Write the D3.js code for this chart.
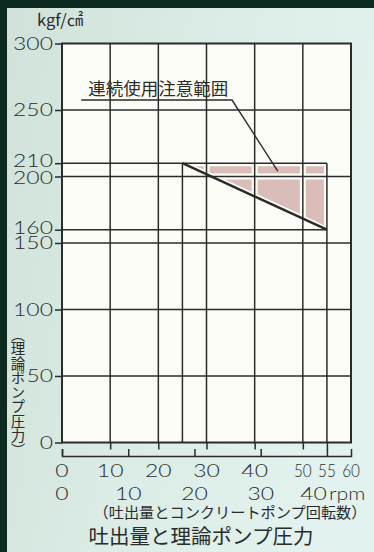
<!DOCTYPE html>
<html><head><meta charset="utf-8">
<script src="https://cdn.jsdelivr.net/npm/d3@7"></script>
<style>
html,body{margin:0;padding:0;background:#0e2a20;}
svg{display:block;}
</style></head><body>
<svg id="chart" width="374" height="552"></svg>
<script>
// Discharge ticks along the first row under the plot
const flowTicks = [0, 10, 20, 30, 40, 50, 55, 60];
// Concrete-pump speed (rpm) on the second row; 40 rpm corresponds to 55 on the discharge scale
const rpmTicks = [0, 10, 20, 30, 40];
const rpmFlowPair = [40, 55];
// Pressure axis labels (kgf/cm²)
const pressureTicks = [0, 50, 100, 150, 160, 200, 210, 250, 300];
const flowGrid = [10, 20, 30, 40, 50];
const pressureGrid = [50, 100, 150, 200, 250];
// Theoretical pump pressure against discharge
const pressureCurve = [[25, 210], [55, 160]];
// Continuous-use caution zone (above the curve, up to 210)
const cautionZone = [[25, 210], [55, 210], [55, 160]];
const cautionLabel = "連続使用注意範囲";
const cautionLabelAt = [20, 261];
const leaderPath = [[4, 257.5], [35.3, 257.5], [44.8, 204]];

const W = 374, H = 552;
const svg = d3.select("#chart");
const ink = "#2b2b2b";
const jp = "'Noto Sans CJK JP', sans-serif";
const num = "Lato, 'Liberation Sans', Arial, sans-serif";

// panel background with dark frame on top and left
const defs = svg.append("defs");
const grad = defs.append("linearGradient").attr("id", "panel").attr("x1", 0).attr("x2", 1).attr("y1", 0).attr("y2", 0.3);
grad.append("stop").attr("offset", 0).attr("stop-color", "#d0e2da");
grad.append("stop").attr("offset", 0.5).attr("stop-color", "#dbebe5");
grad.append("stop").attr("offset", 1).attr("stop-color", "#e2f2ee");
svg.append("rect").attr("width", W).attr("height", H).attr("fill", "#0e2a20");
svg.append("rect").attr("x", 7).attr("y", 8).attr("width", W - 7).attr("height", H - 8).attr("fill", "url(#panel)");

const x = d3.scaleLinear().domain([0, 60]).range([62, 351]);
const y = d3.scaleLinear().domain([0, 300]).range([442.5, 43.5]);
// rpm scale sharing the discharge pixel range
const rpm = d3.scaleLinear().domain([0, rpmFlowPair[0] * 60 / rpmFlowPair[1]]).range(x.range());

// plot area
svg.append("rect").attr("x", x(0)).attr("y", y(300)).attr("width", x(60) - x(0)).attr("height", y(0) - y(300)).attr("fill", "#fdfdf7");

const line = d3.line().x(d => x(d[0])).y(d => y(d[1]));

// caution zone fill
svg.append("path").attr("d", line(cautionZone) + "Z").attr("fill", "#dabcb8");

// all interior lines: pairs of [x0,y0],[x1,y1] in data units
const segs = [];
flowGrid.forEach(f => segs.push([[f, 0], [f, 300]]));
pressureGrid.forEach(p => segs.push([[0, p], [60, p]]));
segs.push([[0, 210], [55, 210]]);
segs.push([[0, 160], [55, 160]]);
segs.push([[25, 0], [25, 210]]);
segs.push([[55, 0], [55, 210]]);

const clip = defs.append("clipPath").attr("id", "plotclip");
clip.append("rect").attr("x", x(0)).attr("y", y(300)).attr("width", x(60) - x(0)).attr("height", y(0) - y(300));

const under = svg.append("g").attr("clip-path", "url(#plotclip)");
under.selectAll("path").data(segs.concat([pressureCurve])).join("path")
  .attr("d", d => line(d)).attr("stroke", "#fdfdf7").attr("stroke-width", 6).attr("fill", "none");

svg.append("g").selectAll("path").data(segs).join("path")
  .attr("d", d => line(d)).attr("stroke", ink).attr("stroke-width", 1.5).attr("fill", "none");

// theoretical pressure line
svg.append("path").attr("d", line(pressureCurve)).attr("stroke", ink).attr("stroke-width", 2.4).attr("fill", "none");

// plot frame
svg.append("rect").attr("x", x(0)).attr("y", y(300)).attr("width", x(60) - x(0)).attr("height", y(0) - y(300))
  .attr("fill", "none").attr("stroke", ink).attr("stroke-width", 2);

// annotation
svg.append("path").attr("d", line(leaderPath)).attr("stroke", ink).attr("stroke-width", 1.4).attr("fill", "none");
svg.append("text").attr("x", x(cautionLabelAt[0])).attr("y", y(cautionLabelAt[1]))
  .attr("text-anchor", "middle").attr("font-family", jp).attr("font-size", 17.5).attr("fill", ink).text(cautionLabel);

// helper for wide numerals
function numText(g, px, py, str, anchor, sx, size) {
  return g.append("text").attr("transform", `translate(${px},${py}) scale(${sx},1)`)
    .attr("text-anchor", anchor).attr("font-family", num).attr("font-weight", 300)
    .attr("font-size", size || 17).attr("fill", ink).text(str);
}

// left axis ticks + labels
const yAxis = svg.append("g").attr("transform", `translate(${x(0)},0)`)
  .call(d3.axisLeft(y).tickValues(pressureTicks).tickSize(7).tickFormat(""));
yAxis.select(".domain").remove();
yAxis.selectAll(".tick line").attr("stroke", ink).attr("stroke-width", 1.5);
// crowded pairs (210/200, 160/150) are spread apart slightly
const labelNudge = p => (p === 210 || p === 160) ? -2 : (p === 200 ? 1.5 : 0);
const yl = svg.append("g");
pressureTicks.forEach(p => numText(yl, 53, y(p) + 6 + labelNudge(p), String(p), "end", 1.35));

// unit
svg.append("text").attr("x", 37).attr("y", 26).attr("font-family", jp).attr("font-size", 16.5).attr("fill", ink).text("kgf/㎠");

// discharge ticks (grid lines extended below the frame)
const xAxis = svg.append("g").attr("transform", `translate(0,${y(0)})`)
  .call(d3.axisBottom(x).tickValues(flowTicks.filter(f => f > 0 && f < 60)).tickSize(7).tickFormat(""));
xAxis.select(".domain").remove();
xAxis.selectAll(".tick line").attr("stroke", ink).attr("stroke-width", 1.5);

// rpm axis line with upward ticks
const rAxis = svg.append("g").attr("transform", "translate(0,456)")
  .call(d3.axisTop(rpm).tickValues(rpmTicks).tickSize(7).tickSizeOuter(7).tickFormat(""));
rAxis.select(".domain").attr("stroke", ink).attr("stroke-width", 1.5);
rAxis.selectAll(".tick line").attr("stroke", ink).attr("stroke-width", 1.5);

// discharge labels
const xl = svg.append("g");
flowTicks.forEach(f => numText(xl, x(f), 477, String(f), "middle", f >= 50 ? 0.9 : 1.35));

// rpm labels
const rl = svg.append("g");
rpmTicks.forEach((r, i) => {
  if (i === rpmTicks.length - 1) {
    numText(rl, rpm(r), 500, String(r), "end", 1.35);
    numText(rl, rpm(r) + 2, 500, "rpm", "start", 1.25);
  } else {
    numText(rl, rpm(r), 500, String(r), "middle", 1.35);
  }
});

// captions
svg.append("text").attr("x", 230).attr("y", 518).attr("text-anchor", "middle").attr("font-family", jp)
  .attr("font-size", 15.2).attr("fill", ink).text("（吐出量とコンクリートポンプ回転数）");
svg.append("text").attr("x", 201).attr("y", 544).attr("text-anchor", "middle").attr("font-family", jp)
  .attr("font-size", 20.5).attr("fill", ink).text("吐出量と理論ポンプ圧力");

// vertical axis title
svg.append("text").attr("x", 18).attr("y", 327).attr("font-family", jp).attr("font-size", 14.5).attr("fill", ink)
  .style("writing-mode", "vertical-rl").style("text-orientation", "upright")
  .text("（理論ポンプ圧力）");
</script>
</body></html>
